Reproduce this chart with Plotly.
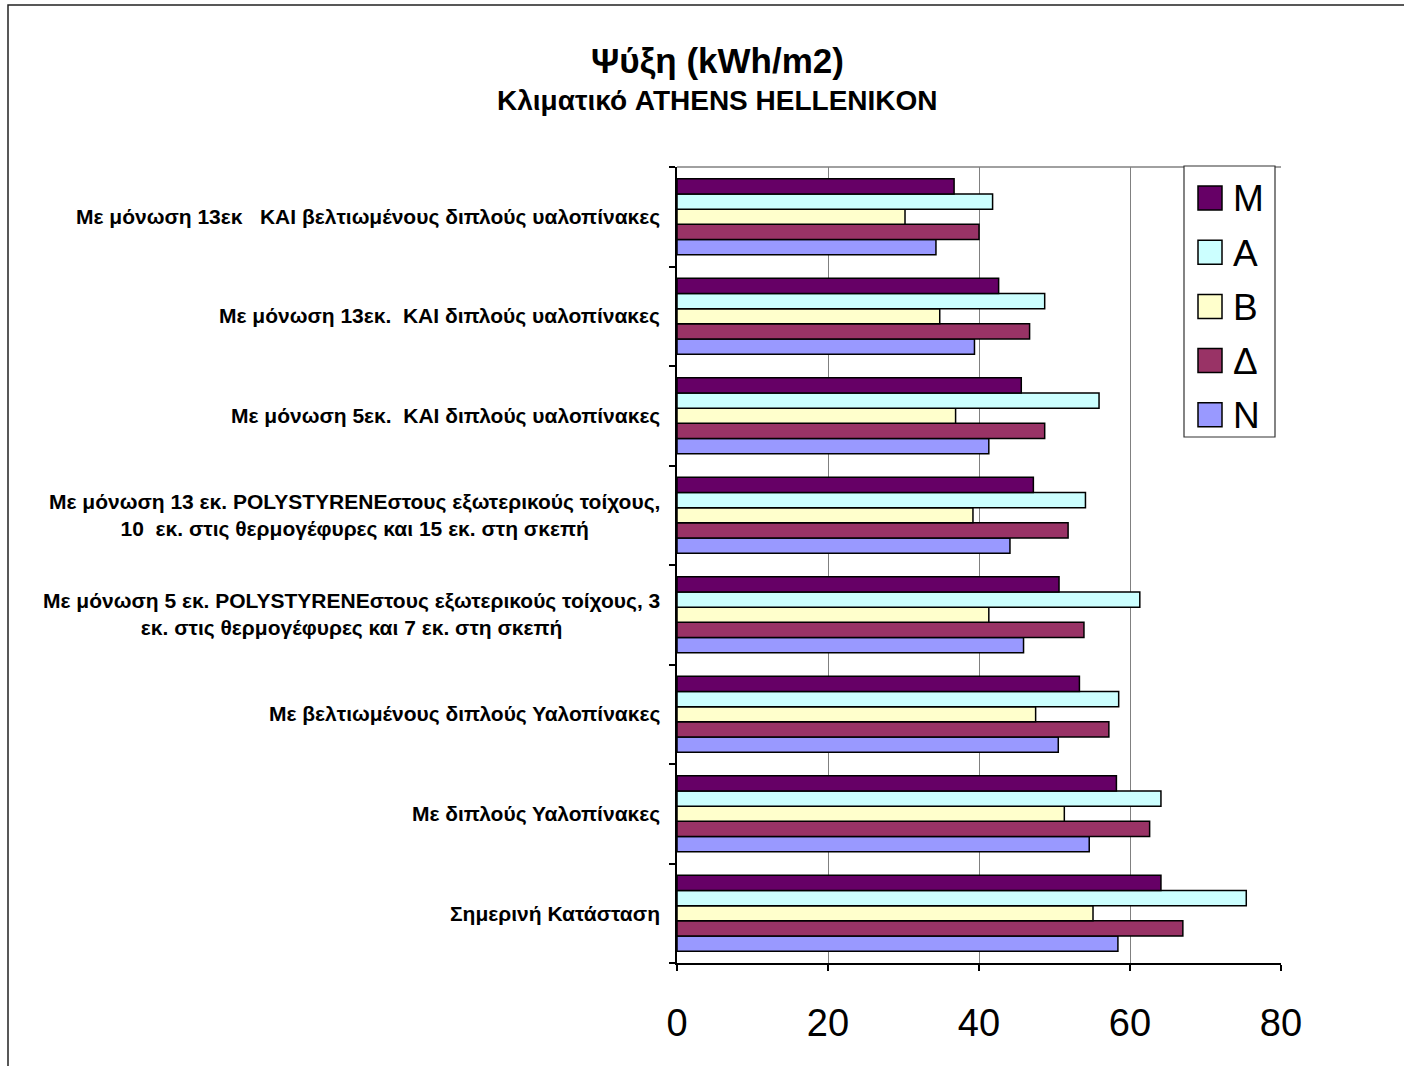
import plotly.graph_objects as go

# Building variants (bottom to top on the chart)
categories = [
    "Σημερινή Κατάσταση",
    "Με διπλούς Υαλοπίνακες",
    "Με βελτιωμένους διπλούς Υαλοπίνακες",
    "Με μόνωση 5 εκ. POLYSTYRENEστους εξωτερικούς τοίχους, 3<br>εκ. στις θερμογέφυρες και 7 εκ. στη σκεπή",
    "Με μόνωση 13 εκ. POLYSTYRENEστους εξωτερικούς τοίχους,<br>10  εκ. στις θερμογέφυρες και 15 εκ. στη σκεπή",
    "Με μόνωση 5εκ.  ΚΑΙ διπλούς υαλοπίνακες",
    "Με μόνωση 13εκ.  ΚΑΙ διπλούς υαλοπίνακες",
    "Με μόνωση 13εκ   ΚΑΙ βελτιωμένους διπλούς υαλοπίνακες",
]

# Cooling demand (kWh/m2) per orientation, same order as categories
M = [64.1, 58.2, 53.3, 50.6, 47.2, 45.6, 42.6, 36.7]
A = [75.4, 64.1, 58.5, 61.3, 54.1, 55.9, 48.7, 41.8]
B = [55.1, 51.3, 47.5, 41.3, 39.2, 36.9, 34.8, 30.2]
D = [67.0, 62.6, 57.2, 53.9, 51.8, 48.7, 46.7, 40.0]
N = [58.4, 54.6, 50.5, 45.9, 44.1, 41.3, 39.4, 34.3]

series_names = ["M", "A", "B", "Δ", "N"]
series_values = [M, A, B, D, N]
series_colors = ["#660066", "#CCFFFF", "#FFFFCC", "#993366", "#9999FF"]

x_ticks = [0, 20, 40, 60, 80]

FONT = "Arial, Liberation Sans, sans-serif"

# Figure geometry (px)
W, H = 1404, 1066
L, R, T, Bm = 677, 123, 167, 103
PW, PH = W - L - R, H - T - Bm


def px_x(x):
    return (x - L) / PW


def px_y(y):
    return (H - Bm - y) / PH


fig = go.Figure()

# Plotly stacks grouped horizontal bars bottom-up, so add N first and M last
for name, vals, col in reversed(list(zip(series_names, series_values, series_colors))):
    fig.add_trace(go.Bar(
        y=categories, x=vals, name=name, orientation="h",
        marker=dict(color=col, line=dict(color="black", width=1.5)),
        showlegend=False,
    ))

annotations = []
# Category labels, centred multi-line text right-aligned to the axis
for cat in categories:
    annotations.append(dict(
        x=0, xref="paper", y=cat, yref="y", text=cat,
        xanchor="right", yanchor="middle", align="center", xshift=-15,
        showarrow=False,
        font=dict(family=FONT, size=21, color="black", weight="bold"),
    ))

# Titles
annotations.append(dict(
    x=px_x(717), y=px_y(61), xref="paper", yref="paper", text="<b>Ψύξη (kWh/m2)</b>",
    showarrow=False, xanchor="center", yanchor="middle",
    font=dict(family=FONT, size=35, color="black"),
))
annotations.append(dict(
    x=px_x(717), y=px_y(101), xref="paper", yref="paper", text="<b>Κλιματικό ATHENS HELLENIKON</b>",
    showarrow=False, xanchor="center", yanchor="middle",
    font=dict(family=FONT, size=28, color="black"),
))

shapes = []
# Outer chart border (top and left visible)
shapes.append(dict(type="rect", xref="paper", yref="paper",
                   x0=px_x(8), x1=px_x(1420), y0=px_y(1080), y1=px_y(5),
                   line=dict(color="#222222", width=1.5), layer="below"))
# Top edge of plot frame
shapes.append(dict(type="line", xref="paper", yref="paper",
                   x0=0, x1=1, y0=1, y1=1, line=dict(color="#808080", width=1.5)))

# Legend box
shapes.append(dict(type="rect", xref="paper", yref="paper",
                   x0=px_x(1184), x1=px_x(1275), y0=px_y(437), y1=px_y(166),
                   fillcolor="white", line=dict(color="#333333", width=1.2), layer="above"))
for i, (name, col) in enumerate(zip(series_names, series_colors)):
    yc = 198 + 54.2 * i
    shapes.append(dict(type="rect", xref="paper", yref="paper",
                       x0=px_x(1198), x1=px_x(1222), y0=px_y(yc + 12), y1=px_y(yc - 12),
                       fillcolor=col, line=dict(color="black", width=1.5), layer="above"))
    annotations.append(dict(
        x=px_x(1231), y=px_y(yc + 1), xref="paper", yref="paper", text=name,
        showarrow=False, xanchor="left", yanchor="middle",
        font=dict(family=FONT, size=37, color="black"),
    ))

fig.update_layout(
    width=W, height=H,
    margin=dict(l=L, r=R, t=T, b=Bm, pad=0),
    paper_bgcolor="white", plot_bgcolor="white",
    barmode="group", bargap=0.235, bargroupgap=0,
    showlegend=False,
    annotations=annotations, shapes=shapes,
    xaxis=dict(
        range=[0, 80], tickvals=x_ticks, ticktext=[str(v) for v in x_ticks],
        showgrid=True, gridcolor="#808080", gridwidth=1.2,
        showline=True, linecolor="black", linewidth=1.5,
        ticks="outside", ticklen=6, tickcolor="black", tickwidth=1.5,
        tickfont=dict(family=FONT, size=38, color="black"),
        ticklabelstandoff=20, zeroline=False, fixedrange=True,
    ),
    yaxis=dict(
        categoryorder="array", categoryarray=categories,
        showticklabels=False, tickson="boundaries",
        ticks="outside", ticklen=6, tickcolor="black", tickwidth=1.5,
        showline=True, linecolor="black", linewidth=1.5,
        showgrid=False, fixedrange=True,
    ),
)

fig.write_html("out.html")
